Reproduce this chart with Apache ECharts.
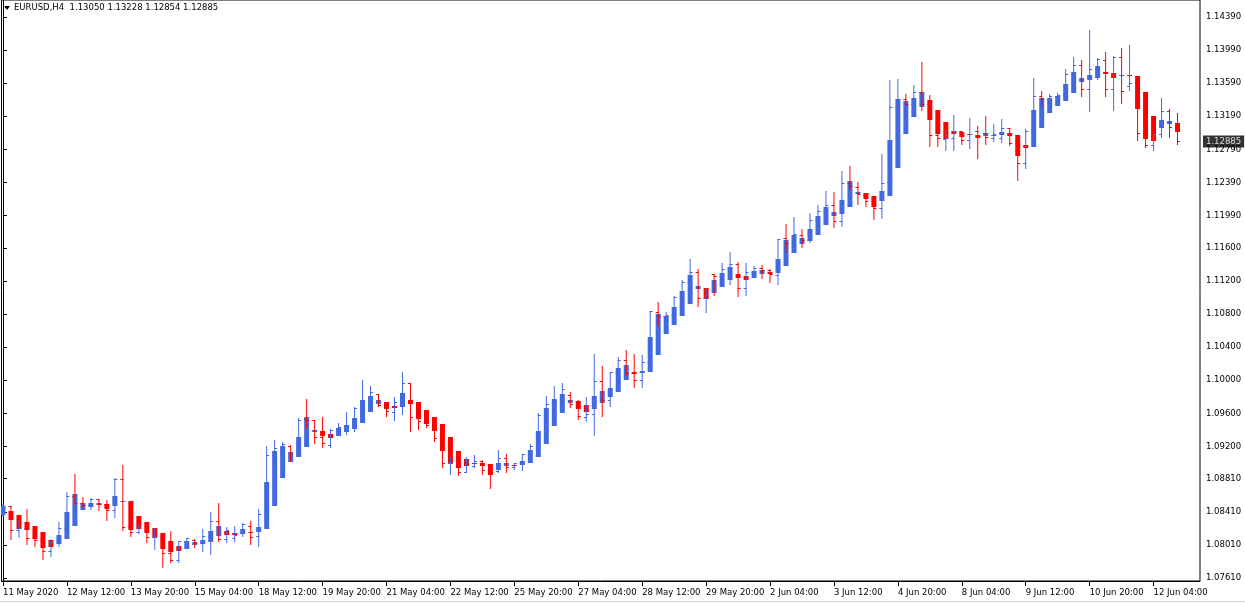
<!DOCTYPE html>
<html>
<head>
<meta charset="utf-8">
<script src="https://cdn.jsdelivr.net/npm/echarts@6/dist/echarts.min.js"></script>
<style>
  html, body { margin: 0; padding: 0; background: #fff; }
  #chart { width: 1245px; height: 603px; }
</style>
</head>
<body>
<div id="chart"></div>
<script>
// EURUSD H4, 11 May 04:00 .. 12 Jun 16:00 (terminal time)
const symbolName = 'EURUSD,H4';
const tradingDays = ['11 May', '12 May', '13 May', '14 May', '15 May', '18 May', '19 May', '20 May', '21 May', '22 May',
  '25 May', '26 May', '27 May', '28 May', '29 May', '1 Jun', '2 Jun', '3 Jun', '4 Jun', '5 Jun',
  '8 Jun', '9 Jun', '10 Jun', '11 Jun', '12 Jun'];
const barHours = ['00:00', '04:00', '08:00', '12:00', '16:00', '20:00'];

const dateTickBars = ['11 May 04:00', '12 May 12:00', '13 May 20:00', '15 May 04:00', '18 May 12:00', '19 May 20:00',
  '21 May 04:00', '22 May 12:00', '25 May 20:00', '27 May 04:00', '28 May 12:00', '29 May 20:00', '2 Jun 04:00',
  '3 Jun 12:00', '4 Jun 20:00', '8 Jun 04:00', '9 Jun 12:00', '10 Jun 20:00', '12 Jun 04:00'];
const dateTickLabels = ['11 May 2020', '12 May 12:00', '13 May 20:00', '15 May 04:00', '18 May 12:00', '19 May 20:00',
  '21 May 04:00', '22 May 12:00', '25 May 20:00', '27 May 04:00', '28 May 12:00', '29 May 20:00', '2 Jun 04:00',
  '3 Jun 12:00', '4 Jun 20:00', '8 Jun 04:00', '9 Jun 12:00', '10 Jun 20:00', '12 Jun 04:00'];

const priceTicks = [1.07610, 1.08010, 1.08410, 1.08810, 1.09200, 1.09600, 1.10000, 1.10400, 1.10800,
  1.11200, 1.11600, 1.11990, 1.12390, 1.12790, 1.13190, 1.13590, 1.13990, 1.14390];
// visible price window of the chart
const priceMin = 1.075735;
const priceMax = 1.145955;
// visible bar window (150 slots, first bar partly cut by the left edge)
const slotMin = -0.1875;
const slotMax = 149.8125;

const barOpen = [
  1.08382, 1.08476, 1.08188, 1.08208, 1.08087, 1.08066, 1.07930, 1.08035, 1.08210, 1.08596,
  1.08511, 1.08487, 1.08559, 1.08498, 1.08427, 1.08799, 1.08220, 1.08164, 1.08227, 1.08099,
  1.08103, 1.07901, 1.07824, 1.08052, 1.08064, 1.08029, 1.08113, 1.08294, 1.08077, 1.08085,
  1.08142, 1.08229, 1.08106, 1.08383, 1.09093, 1.09173, 1.09200, 1.09107, 1.09524, 1.09514,
  1.09303, 1.09215, 1.09395, 1.09423, 1.09448, 1.09662, 1.09742, 1.09822, 1.09689, 1.09613,
  1.09734, 1.09960, 1.09552, 1.09503, 1.09446, 1.09297, 1.08996, 1.08995, 1.08888, 1.08952,
  1.09019, 1.08914, 1.08900, 1.09048, 1.08940, 1.08988, 1.09104, 1.09202, 1.09577, 1.09709,
  1.09749, 1.09817, 1.09740, 1.09553, 1.09582, 1.09986, 1.09758, 1.10096, 1.10240, 1.10084,
  1.10000, 1.10219, 1.10824, 1.10773, 1.10786, 1.11002, 1.11184, 1.11303, 1.10990, 1.11279,
  1.11252, 1.11341, 1.11400, 1.11112, 1.11304, 1.11355, 1.11323, 1.11269, 1.11707, 1.11656,
  1.11755, 1.11692, 1.11932, 1.12041, 1.12109, 1.11922, 1.12380, 1.12335, 1.12238, 1.12161,
  1.12079, 1.12385, 1.13299, 1.13391, 1.13335, 1.13483, 1.13332, 1.12960, 1.12915, 1.12924,
  1.13004, 1.12900, 1.13007, 1.12980, 1.12924, 1.12924, 1.13044, 1.12862, 1.12623, 1.13011,
  1.13431, 1.13395, 1.13427, 1.13440, 1.13697, 1.13808, 1.13517, 1.13758, 1.13869, 1.13517,
  1.13901, 1.13549, 1.13585, 1.12982, 1.12839, 1.12972, 1.13252, 1.13050
];
const barHigh = [
  1.08510, 1.08476, 1.08308, 1.08448, 1.08183, 1.08066, 1.08086, 1.08283, 1.08646, 1.08864,
  1.08591, 1.08575, 1.08567, 1.08558, 1.08815, 1.08971, 1.08248, 1.08248, 1.08235, 1.08219,
  1.08103, 1.08176, 1.08051, 1.08092, 1.08080, 1.08201, 1.08405, 1.08514, 1.08225, 1.08241,
  1.08274, 1.08297, 1.08442, 1.09209, 1.09276, 1.09253, 1.09212, 1.09542, 1.09771, 1.09514,
  1.09554, 1.09406, 1.09483, 1.09615, 1.09676, 1.10001, 1.09930, 1.09834, 1.09713, 1.09797,
  1.10097, 1.09960, 1.09660, 1.09519, 1.09546, 1.09345, 1.09076, 1.09035, 1.09071, 1.09095,
  1.09035, 1.08942, 1.09155, 1.09107, 1.08996, 1.09107, 1.09228, 1.09601, 1.09808, 1.09929,
  1.09969, 1.09857, 1.09760, 1.09800, 1.10312, 1.10170, 1.10098, 1.10279, 1.10363, 1.10315,
  1.10303, 1.10833, 1.10944, 1.10824, 1.11017, 1.11210, 1.11463, 1.11339, 1.11106, 1.11283,
  1.11415, 1.11548, 1.11424, 1.11415, 1.11380, 1.11391, 1.11339, 1.11712, 1.11886, 1.11971,
  1.11827, 1.12019, 1.12116, 1.12285, 1.12273, 1.12525, 1.12587, 1.12395, 1.12246, 1.12193,
  1.12730, 1.13634, 1.13638, 1.13459, 1.13567, 1.13846, 1.13444, 1.13207, 1.13023, 1.13203,
  1.13012, 1.13167, 1.13071, 1.13191, 1.13095, 1.13155, 1.13048, 1.12958, 1.13035, 1.13649,
  1.13495, 1.13459, 1.13471, 1.13767, 1.13905, 1.13868, 1.14228, 1.13898, 1.13969, 1.13917,
  1.14021, 1.14049, 1.13641, 1.13002, 1.12982, 1.13408, 1.13284, 1.13228
];
const barLow = [
  1.08358, 1.08084, 1.08108, 1.08024, 1.07995, 1.07842, 1.07878, 1.07995, 1.08174, 1.08504,
  1.08471, 1.08443, 1.08431, 1.08310, 1.08351, 1.08191, 1.08120, 1.08156, 1.08047, 1.07959,
  1.07748, 1.07809, 1.07808, 1.07997, 1.07989, 1.07938, 1.07894, 1.08058, 1.08049, 1.08061,
  1.08118, 1.08025, 1.08002, 1.08375, 1.09037, 1.09149, 1.09029, 1.09095, 1.09428, 1.09247,
  1.09187, 1.09187, 1.09376, 1.09352, 1.09381, 1.09642, 1.09722, 1.09686, 1.09573, 1.09521,
  1.09590, 1.09382, 1.09412, 1.09431, 1.09271, 1.08957, 1.08868, 1.08855, 1.08888, 1.08948,
  1.08871, 1.08702, 1.08888, 1.08896, 1.08932, 1.08916, 1.09092, 1.09182, 1.09565, 1.09689,
  1.09729, 1.09681, 1.09537, 1.09509, 1.09342, 1.09563, 1.09694, 1.09976, 1.10060, 1.09924,
  1.09924, 1.10207, 1.10673, 1.10709, 1.10738, 1.10918, 1.11136, 1.10903, 1.10819, 1.11031,
  1.11176, 1.11169, 1.11012, 1.11036, 1.11244, 1.11240, 1.11192, 1.11161, 1.11555, 1.11632,
  1.11615, 1.11676, 1.11848, 1.11937, 1.11846, 1.11870, 1.12316, 1.12135, 1.12110, 1.11953,
  1.11955, 1.12301, 1.13267, 1.13327, 1.13275, 1.13267, 1.12825, 1.12836, 1.12787, 1.12788,
  1.12852, 1.12812, 1.12691, 1.12860, 1.12896, 1.12884, 1.12848, 1.12415, 1.12559, 1.12975,
  1.13315, 1.13347, 1.13387, 1.13416, 1.13490, 1.13433, 1.13250, 1.13642, 1.13438, 1.13266,
  1.13350, 1.13509, 1.12898, 1.12815, 1.12783, 1.12936, 1.12936, 1.12854
];
const barClose = [
  1.08470, 1.08188, 1.08208, 1.08088, 1.08067, 1.07930, 1.08034, 1.08207, 1.08594, 1.08512,
  1.08487, 1.08559, 1.08499, 1.08430, 1.08803, 1.08223, 1.08164, 1.08228, 1.08099, 1.08103,
  1.07900, 1.07825, 1.08051, 1.08084, 1.08028, 1.08113, 1.08293, 1.08078, 1.08185, 1.08129,
  1.08262, 1.08105, 1.08378, 1.09090, 1.09172, 1.09229, 1.09105, 1.09514, 1.09512, 1.09303,
  1.09239, 1.09394, 1.09423, 1.09447, 1.09660, 1.09742, 1.09846, 1.09690, 1.09621, 1.09733,
  1.09961, 1.09553, 1.09504, 1.09447, 1.09299, 1.08997, 1.08996, 1.08887, 1.09012, 1.09020,
  1.08915, 1.08874, 1.09048, 1.08940, 1.08988, 1.09103, 1.09200, 1.09574, 1.09708, 1.09749,
  1.09885, 1.09709, 1.09565, 1.09581, 1.09985, 1.09758, 1.10094, 1.10240, 1.10084, 1.10000,
  1.10216, 1.10829, 1.10773, 1.10785, 1.11001, 1.11182, 1.11304, 1.10991, 1.11030, 1.11251,
  1.11340, 1.11401, 1.11112, 1.11304, 1.11352, 1.11323, 1.11283, 1.11704, 1.11655, 1.11764,
  1.11691, 1.11931, 1.12040, 1.12109, 1.11921, 1.12378, 1.12336, 1.12239, 1.12162, 1.12081,
  1.12379, 1.13295, 1.13391, 1.13335, 1.13483, 1.13335, 1.12961, 1.12916, 1.12923, 1.13004,
  1.12900, 1.12972, 1.12947, 1.12932, 1.12964, 1.13044, 1.12864, 1.12622, 1.13007, 1.13430,
  1.13395, 1.13427, 1.13439, 1.13695, 1.13809, 1.13516, 1.13757, 1.13878, 1.13517, 1.13901,
  1.13490, 1.13589, 1.12986, 1.12839, 1.12970, 1.13252, 1.13060, 1.12885
];
// Heiken Ashi values of the first visible bar (earlier history is off screen)
const haSeedOpen = 1.08369;
const haSeedClose = 1.08482;

const BLUE = '#4169E1';
const RED = '#FF0000';
const FONT = 'DejaVu Sans';

// bar times
const barTimes = [];
tradingDays.forEach(function (d) {
  barHours.forEach(function (h) { barTimes.push(d + ' ' + h); });
});
barTimes.shift(); // first visible bar is 11 May 04:00
barTimes.length = barOpen.length;

const tickIndex = dateTickBars.map(function (t) { return barTimes.indexOf(t); });

// Heiken Ashi overlay, as the MT4 indicator computes it
const haOpen = [haSeedOpen];
const haClose = [haSeedClose];
for (let i = 1; i < barOpen.length; i++) {
  haOpen.push((haOpen[i - 1] + haClose[i - 1]) / 2);
  haClose.push((barOpen[i] + barHigh[i] + barLow[i] + barClose[i]) / 4);
}

const barData = barOpen.map(function (o, i) { return [i, o, barHigh[i], barLow[i], barClose[i]]; });
const haData = haOpen.map(function (o, i) { return [i, o, haClose[i]]; });
const last = barOpen.length - 1;

function crisp(v) { return Math.floor(v) + 0.5; }

function renderHa(params, api) {
  const i = api.value(0);
  const o = api.value(1), c = api.value(2);
  const po = api.coord([i, o]);
  const pc = api.coord([i, c]);
  const x = po[0];
  let top = Math.round(Math.min(po[1], pc[1]));
  let bot = Math.round(Math.max(po[1], pc[1]));
  if (bot - top < 1) bot = top + 1;
  return {
    type: 'rect',
    shape: { x: x - 2.5, y: top, width: 5, height: bot - top },
    style: { fill: c >= o ? BLUE : RED }
  };
}

function renderBar(params, api) {
  const i = api.value(0);
  const o = api.value(1), h = api.value(2), l = api.value(3), c = api.value(4);
  const x = api.coord([i, o])[0];
  const yO = crisp(api.coord([i, o])[1]);
  const yH = Math.round(api.coord([i, h])[1]);
  const yL = Math.round(api.coord([i, l])[1]) + 1;
  const yC = crisp(api.coord([i, c])[1]);
  const col = c >= o ? BLUE : RED;
  const st = { stroke: col, lineWidth: 1 };
  return {
    type: 'group',
    children: [
      { type: 'line', shape: { x1: x, y1: yH, x2: x, y2: yL }, style: st },
      { type: 'line', shape: { x1: x - 2.5, y1: yO, x2: x + 0.5, y2: yO }, style: st },
      { type: 'line', shape: { x1: x - 0.5, y1: yC, x2: x + 2.5, y2: yC }, style: st }
    ]
  };
}

const chart = echarts.init(document.getElementById('chart'));
chart.setOption({
  animation: false,
  backgroundColor: '#ffffff',
  title: {
    text: symbolName + '  ' + [barOpen[last], barHigh[last], barLow[last], barClose[last]].map(function (v) { return v.toFixed(5); }).join(' '),
    left: 14,
    top: 3,
    padding: 0,
    textStyle: { fontFamily: FONT, fontSize: 8.5, fontWeight: 'normal', color: '#000' }
  },
  graphic: [
    { type: 'polygon', shape: { points: [[4, 6], [10, 6], [7, 10]] }, style: { fill: '#000' } },
    { type: 'line', shape: { x1: 0, y1: 601.5, x2: 1245, y2: 601.5 }, style: { stroke: '#d4d4d4', lineWidth: 1 } }
  ],
  grid: {
    left: 0, top: 0, width: 1200, height: 581,
    show: true, borderColor: '#000', borderWidth: 1, backgroundColor: '#fff'
  },
  xAxis: {
    type: 'value',
    min: slotMin,
    max: slotMax,
    axisLine: { show: true, lineStyle: { color: '#000', width: 1 } },
    axisTick: { show: true, length: 5, customValues: tickIndex, lineStyle: { color: '#000' } },
    axisLabel: {
      customValues: tickIndex,
      align: 'left',
      margin: 7,
      color: '#000',
      fontFamily: FONT,
      fontSize: 8.5,
      formatter: function (v) {
        const k = tickIndex.indexOf(Math.round(v));
        return k >= 0 ? dateTickLabels[k] : '';
      }
    },
    splitLine: { show: false }
  },
  yAxis: {
    type: 'value',
    position: 'right',
    min: priceMin,
    max: priceMax,
    axisLine: { show: true, lineStyle: { color: '#000', width: 1 } },
    axisTick: { show: true, length: 4, customValues: priceTicks, lineStyle: { color: '#000' } },
    axisLabel: {
      customValues: priceTicks,
      margin: 6,
      color: '#000',
      fontFamily: FONT,
      fontSize: 8.5,
      formatter: function (v) { return v.toFixed(5); }
    },
    splitLine: { show: false }
  },
  series: [
    {
      name: 'Heiken Ashi',
      type: 'custom',
      renderItem: renderHa,
      data: haData,
      encode: { x: 0, y: [1, 2] },
      clip: true,
      z: 2
    },
    {
      name: symbolName,
      type: 'custom',
      renderItem: renderBar,
      data: barData,
      encode: { x: 0, y: [1, 2, 3, 4] },
      clip: true,
      z: 3
    },
    {
      // current price tag on the price scale
      name: 'last price',
      type: 'scatter',
      data: [[slotMax, barClose[last]]],
      symbolSize: 0,
      silent: true,
      clip: false,
      z: 10,
      label: {
        show: true,
        position: 'right',
        distance: 3,
        formatter: function (p) { return p.value[1].toFixed(5); },
        color: '#fff',
        backgroundColor: '#000',
        padding: [2, 3, 1, 3],
        fontFamily: FONT,
        fontSize: 8.5
      }
    }
  ]
});
</script>
</body>
</html>
